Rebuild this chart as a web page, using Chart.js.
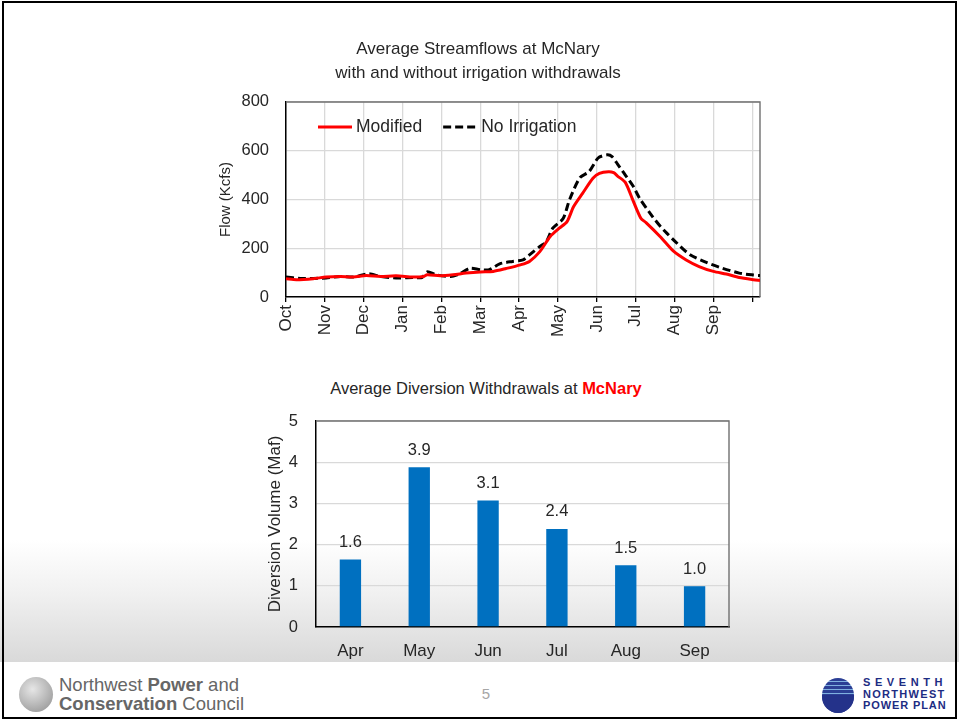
<!DOCTYPE html>
<html>
<head>
<meta charset="utf-8">
<title>McNary streamflows</title>
<script src="https://cdn.jsdelivr.net/npm/chart.js@4.4.0/dist/chart.umd.min.js"></script>
<style>
  html, body { margin: 0; padding: 0; background: #fff; }
  body { width: 959px; height: 721px; position: relative; overflow: hidden; font-family: "Liberation Sans", Arial, sans-serif; color: #262626; }
  .frame { position: absolute; left: 2px; top: 1px; width: 955px; height: 718px; border: 2px solid #000; box-sizing: border-box; z-index: 5; pointer-events: none; }
  .band { position: absolute; left: 0; right: 0; top: 540px; height: 122px; background: linear-gradient(to bottom, #ffffff 0%, #f0f0f0 45%, #d9d9d9 100%); }
  #flowWrap { position: absolute; left: 196px; top: 30px; }
  #divWrap { position: absolute; left: 250px; top: 400px; }
  .subTitle { position: absolute; left: 186px; top: 378px; width: 600px; text-align: center; font-size: 16.5px; line-height: 20px; }
  .subTitle b { color: #ff0000; }
  .nwLogo { position: absolute; left: 19px; top: 677px; width: 34px; height: 35px; border-radius: 50%;
    background: radial-gradient(circle at 40% 35%, #e6e6e6 0%, #b5b5b5 55%, #8c8c8c 100%); }
  .nwText { position: absolute; left: 59px; top: 675px; font-size: 18.5px; line-height: 19px; color: #666; }
  .pageNo { position: absolute; left: 476px; top: 685px; width: 20px; text-align: center; font-size: 15px; color: #a6a6a6; }
  .planLogo { position: absolute; left: 822px; top: 678px; width: 32px; height: 35px; border-radius: 50%;
    background: repeating-linear-gradient(to bottom, #2b3f95 0px, #2b3f95 3px, #7fb0e0 3px, #7fb0e0 4px); }
  .planLogo::after { content: ""; position: absolute; left: 0; top: 17px; width: 32px; height: 18px; border-radius: 0 0 16px 16px; background: #24328a; }
  .planText { position: absolute; left: 863px; top: 677px; font-weight: bold; color: #1d2c83; font-size: 11px; line-height: 11.5px; }
</style>
</head>
<body>
<div class="band"></div>
<div id="flowWrap"><canvas id="flowChart" width="580" height="345"></canvas></div>
<div class="subTitle">Average Diversion Withdrawals at <b>McNary</b></div>
<div id="divWrap"><canvas id="divChart" width="490" height="265"></canvas></div>

<div class="nwLogo"></div>
<div class="nwText">Northwest <b>Power</b> and<br><b>Conservation</b> Council</div>
<div class="pageNo">5</div>
<div class="planLogo"></div>
<div class="planText">
  <div style="letter-spacing:4.6px">SEVENTH</div>
  <div style="letter-spacing:1.3px">NORTHWEST</div>
  <div style="letter-spacing:0.9px">POWER PLAN</div>
</div>
<div class="frame"></div>

<script>
// water year axis: day 0 = Oct 1, one tick every 30 days
const monthLabels = ['Oct', 'Nov', 'Dec', 'Jan', 'Feb', 'Mar', 'Apr', 'May', 'Jun', 'Jul', 'Aug', 'Sep']
const tickDays = [0, 30, 60, 90, 120, 150, 180, 210, 240, 270, 300, 330, 360]

// Modified flow (Kcfs)
const modifiedDays = [0, 8, 21, 31, 42, 52, 62, 73, 85, 98, 106, 109, 119, 129, 139, 150, 160, 170, 181, 188, 196, 204, 211, 217, 222, 229, 237, 242, 249, 253, 256, 262, 268, 274, 278, 289, 299, 309, 319, 330, 340, 350, 361, 366]
const modifiedFlow = [75, 71, 75, 82, 84, 82, 88, 84, 87, 82, 84, 91, 87, 91, 98, 103, 105, 117, 132, 146, 186, 248, 282, 309, 370, 425, 487, 507, 514, 510, 496, 470, 395, 323, 305, 247, 189, 152, 125, 105, 94, 80, 71, 68]

// No irrigation flow (Kcfs)
const noIrrDays = [0, 11, 21, 31, 42, 52, 64, 73, 85, 98, 105, 109, 116, 127, 134, 142, 150, 157, 165, 175, 183, 188, 196, 201, 206, 214, 219, 227, 234, 241, 248, 252, 256, 260, 268, 273, 283, 289, 294, 301, 312, 325, 337, 350, 361, 366]
const noIrrFlow = [82, 76, 76, 78, 84, 82, 95, 84, 78, 80, 80, 103, 91, 84, 95, 118, 112, 112, 136, 146, 152, 173, 207, 227, 282, 322, 400, 490, 514, 570, 583, 575, 545, 515, 455, 405, 330, 290, 262, 225, 173, 141, 118, 98, 90, 88]

// diversion withdrawals (Maf)
const diversionMonths = ['Apr', 'May', 'Jun', 'Jul', 'Aug', 'Sep']
const diversionVolume = [1.64, 3.88, 3.07, 2.38, 1.50, 0.99]

const textColor = '#262626'
const gridColor = '#d9d9d9'

Chart.defaults.font.family = '"Liberation Sans", Arial, sans-serif'
Chart.defaults.color = textColor

// gray top + right edge of the plot box (left/bottom are the black axis lines)
const plotFrame = {
  id: 'plotFrame',
  beforeDatasetsDraw(chart) {
    const { ctx, chartArea: a } = chart
    ctx.save()
    ctx.strokeStyle = '#707070'
    ctx.lineWidth = 1.4
    ctx.beginPath()
    ctx.moveTo(a.left, a.top)
    ctx.lineTo(a.right, a.top)
    ctx.lineTo(a.right, a.bottom)
    ctx.stroke()
    ctx.restore()
  }
}

// legend sits inside the plot, top left
const insideLegend = {
  id: 'insideLegend',
  afterDatasetsDraw(chart) {
    const { ctx, chartArea: a } = chart
    const y = a.top + 25
    let x = a.left + 32
    ctx.save()
    ctx.font = '17.5px "Liberation Sans", Arial, sans-serif'
    ctx.textBaseline = 'middle'
    chart.data.datasets.forEach(ds => {
      ctx.strokeStyle = ds.borderColor
      ctx.lineWidth = ds.borderWidth
      ctx.setLineDash(ds.borderDash || [])
      ctx.beginPath()
      ctx.moveTo(x, y)
      ctx.lineTo(x + 34, y)
      ctx.stroke()
      ctx.setLineDash([])
      ctx.fillStyle = textColor
      ctx.fillText(ds.label, x + 38, y)
      x += 38 + ctx.measureText(ds.label).width + 21
    })
    ctx.restore()
  }
}

// value labels above the bars
const barValues = {
  id: 'barValues',
  afterDatasetsDraw(chart) {
    const { ctx } = chart
    const meta = chart.getDatasetMeta(0)
    const values = chart.data.datasets[0].data
    ctx.save()
    ctx.font = '16.5px "Liberation Sans", Arial, sans-serif'
    ctx.fillStyle = textColor
    ctx.textAlign = 'center'
    ctx.textBaseline = 'middle'
    meta.data.forEach((bar, i) => {
      ctx.fillText(values[i].toFixed(1), bar.x, bar.y - 17)
    })
    ctx.restore()
  }
}

new Chart(document.getElementById('flowChart'), {
  type: 'line',
  data: {
    datasets: [{
      label: 'Modified',
      data: modifiedDays.map((d, i) => ({ x: d, y: modifiedFlow[i] })),
      borderColor: '#ff0000',
      borderWidth: 3,
      pointRadius: 0,
      tension: 0.25,
      fill: false
    }, {
      label: 'No Irrigation',
      data: noIrrDays.map((d, i) => ({ x: d, y: noIrrFlow[i] })),
      borderColor: '#000000',
      borderWidth: 3,
      borderDash: [8, 4],
      pointRadius: 0,
      tension: 0.25,
      fill: false
    }]
  },
  options: {
    responsive: false,
    animation: false,
    devicePixelRatio: 1,
    layout: { padding: { left: 0, right: 16, top: 0, bottom: 0 } },
    plugins: {
      legend: { display: false },
      tooltip: { enabled: false },
      title: {
        display: true,
        text: ['Average Streamflows at McNary', 'with and without irrigation withdrawals'],
        color: textColor,
        font: { size: 17, weight: 'normal', lineHeight: 1.41 },
        padding: { top: 7, bottom: 17 }
      }
    },
    scales: {
      x: {
        type: 'linear',
        min: 0,
        max: 366,
        afterBuildTicks: s => { s.ticks = tickDays.map(v => ({ value: v })) },
        afterFit: s => { s.height = 78 },
        ticks: {
          autoSkip: false,
          minRotation: 90,
          maxRotation: 90,
          padding: 3,
          color: textColor,
          font: { size: 17 },
          callback: (v, i) => monthLabels[i] || ''
        },
        grid: { color: gridColor, lineWidth: 1.3, tickLength: 5, tickColor: '#000', tickWidth: 1.3 },
        border: { color: '#000', width: 1.5 }
      },
      y: {
        min: 0,
        max: 800,
        afterFit: s => { s.width = 90 },
        ticks: { stepSize: 200, padding: 17, color: textColor, font: { size: 16.5 } },
        grid: { color: gridColor, lineWidth: 1.3, drawTicks: false },
        border: { color: '#000', width: 1.5 },
        title: { display: true, text: 'Flow (Kcfs)', color: textColor, font: { size: 15 }, padding: { top: 21, bottom: 0 } }
      }
    }
  },
  plugins: [plotFrame, insideLegend]
})

new Chart(document.getElementById('divChart'), {
  type: 'bar',
  data: {
    labels: diversionMonths,
    datasets: [{
      label: 'Diversion Volume',
      data: diversionVolume,
      backgroundColor: '#0070c0',
      categoryPercentage: 1,
      barPercentage: 0.31
    }]
  },
  options: {
    responsive: false,
    animation: false,
    devicePixelRatio: 1,
    layout: { padding: { left: 0, right: 11, top: 21, bottom: 0 } },
    plugins: {
      legend: { display: false },
      tooltip: { enabled: false }
    },
    scales: {
      x: {
        afterFit: s => { s.height = 38 },
        grid: { display: false, drawTicks: false },
        border: { color: '#000', width: 1.5 },
        ticks: { padding: 14, color: textColor, font: { size: 17 } }
      },
      y: {
        min: 0,
        max: 5,
        afterFit: s => { s.width = 66 },
        // invisible tick marks give the label gap without adding top padding
        ticks: { stepSize: 1, padding: 0, color: textColor, font: { size: 16.5 } },
        grid: { color: gridColor, lineWidth: 1.3, drawTicks: true, tickLength: 18, tickColor: 'rgba(0,0,0,0)' },
        border: { color: '#000', width: 1.5 },
        title: { display: true, text: 'Diversion Volume (Maf)', color: textColor, font: { size: 17 }, padding: { top: 15, bottom: 0 } }
      }
    }
  },
  plugins: [plotFrame, barValues]
})
</script>
</body>
</html>
